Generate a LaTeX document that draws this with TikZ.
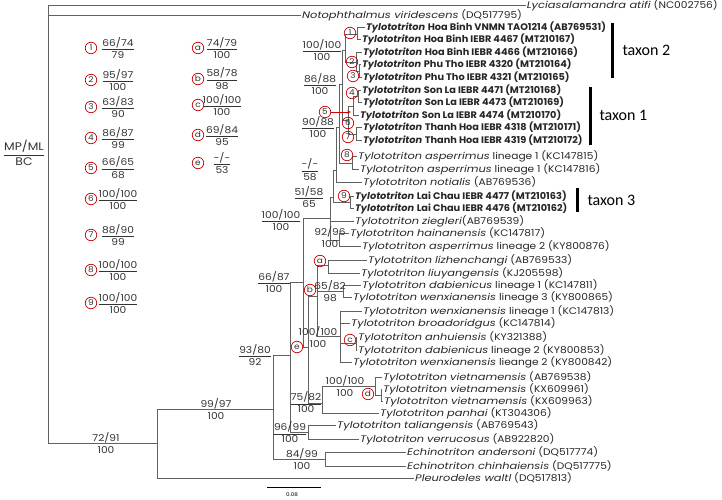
\documentclass[tikz,border=0pt]{standalone}
\usepackage{amsmath}
\usepackage{graphicx}
\usepackage{fontspec}
\setmainfont{Poppins}[
    UprightFeatures={FakeStretch=1.12},
    ItalicFeatures={FakeStretch=1.2},
    BoldFeatures={FakeStretch=1.13},
    BoldItalicFeatures={FakeStretch=1.13}]
\newfontfamily\taxfont{Carlito}
\usetikzlibrary{arrows.meta}

% support values: MP/ML over BC
\newcommand{\bsfrac}[2]{$\genfrac{}{}{0.6pt}{0}{\text{#1}}{\text{#2}}$}
\newcommand{\bsstack}[2]{$\genfrac{}{}{0pt}{0}{\text{#1}}{\text{#2}}$}
% new samples in bold, slightly condensed
\newcommand{\tyl}[1]{\scalebox{0.91}[1]{\textbf{\textit{Tylototriton}} \textbf{#1}}}
\newcommand{\tyi}{\textit{Tylototriton}}

\begin{document}
\begin{tikzpicture}[x=1pt, y=-1pt,
    branch/.style={draw=black!62, line width=0.9pt},
    taxon/.style={anchor=west, inner sep=1pt, font=\fontsize{9.5}{10}\selectfont, text=black!85},
    supp/.style={inner sep=0pt, font=\fontsize{9.5}{10}\selectfont, text=black!80},
    nodec/.style={circle, draw=red!80!black, line width=0.7pt, inner sep=0pt,
        minimum size=11.5pt, font=\fontsize{8}{8}\selectfont, text=black!80},
    taxbar/.style={line width=3pt, black},
    taxlab/.style={anchor=west, font=\taxfont\fontsize{16}{16}\selectfont}
]
\useasboundingbox (0,0) rectangle (722,500);

% Terminal taxa
\node[taxon, anchor=east] (lycia) at (719,5) {\textit{Lyciasalamandra atifi} (NC002756)};
\node[taxon] (noto)  at (301,15)  {\textit{Notophthalmus viridescens} (DQ517795)};
\node[taxon] (hb1)   at (365,27)  {\tyl{Hoa Binh VNMN TAO1214 (AB769531)}};
\node[taxon] (hb2)   at (361,39.5){\tyl{Hoa Binh IEBR 4467 (MT210167)}};
\node[taxon] (hb3)   at (362,52)  {\tyl{Hoa Binh IEBR 4466 (MT210166)}};
\node[taxon] (pt1)   at (361,64.5){\tyl{Phu Tho IEBR 4320 (MT210164)}};
\node[taxon] (pt2)   at (362,77)  {\tyl{Phu Tho IEBR 4321 (MT210165)}};
\node[taxon] (sl1)   at (361,90)  {\tyl{Son La IEBR 4471 (MT210168)}};
\node[taxon] (sl2)   at (362,102.5){\tyl{Son La IEBR 4473 (MT210169)}};
\node[taxon] (sl3)   at (359,115) {\tyl{Son La IEBR 4474 (MT210170)}};
\node[taxon] (th1)   at (362,127.5){\tyl{Thanh Hoa IEBR 4318 (MT210171)}};
\node[taxon] (th2)   at (362,140) {\tyl{Thanh Hoa IEBR 4319 (MT210172)}};
\node[taxon] (asp1a) at (357,156) {\tyi\ \textit{asperrimus} lineage 1 (KC147815)};
\node[taxon] (asp1b) at (359,169) {\tyi\ \textit{asperrimus} lineage 1 (KC147816)};
\node[taxon] (noti)  at (362,182) {\tyi\ \textit{notialis} (AB769536)};
\node[taxon] (lc1)   at (354,196) {\tyl{Lai Chau IEBR 4477 (MT210163)}};
\node[taxon] (lc2)   at (354,208) {\tyl{Lai Chau IEBR 4476 (MT210162)}};
\node[taxon] (zieg)  at (354,221) {\tyi\ \textit{ziegleri}(AB769539)};
\node[taxon] (hain)  at (349,233) {\tyi\ \textit{hainanensis} (KC147817)};
\node[taxon] (asp2)  at (361,246) {\tyi\ \textit{asperrimus} lineage 2 (KY800876)};
\node[taxon] (lizh)  at (367,260) {\tyi\ \textit{lizhenchangi} (AB769533)};
\node[taxon] (liuy)  at (360,273) {\tyi\ \textit{liuyangensis} (KJ205598)};
\node[taxon] (dab1)  at (361,285) {\tyi\ \textit{dabienicus} lineage 1 (KC147811)};
\node[taxon] (wen3)  at (352,297) {\tyi\ \textit{wenxianensis} lineage 3 (KY800865)};
\node[taxon] (wen1)  at (362,311) {\tyi\ \textit{wenxianensis} lineage 1 (KC147813)};
\node[taxon] (broa)  at (350,323) {\tyi\ \textit{broadoridgus} (KC147814)};
\node[taxon] (anhu)  at (357,337) {\tyi\ \textit{anhuiensis} (KY321388)};
\node[taxon] (dab2)  at (357,350) {\tyi\ \textit{dabienicus} lineage 2 (KY800853)};
\node[taxon] (wen2)  at (352,362) {\tyi\ \textit{wenxianensis} lieange 2 (KY800842)};
\node[taxon] (viet1) at (382,377) {\tyi\ \textit{vietnamensis} (AB769538)};
\node[taxon] (viet2) at (382,389) {\tyi\ \textit{vietnamensis} (KX609961)};
\node[taxon] (viet3) at (383,401) {\tyi\ \textit{vietnamensis} (KX609963)};
\node[taxon] (panh)  at (379,413) {\tyi\ \textit{panhai} (KT304306)};
\node[taxon] (tali)  at (336,425) {\tyi\ \textit{taliangensis} (AB769543)};
\node[taxon] (verr)  at (359,439) {\tyi\ \textit{verrucosus} (AB922820)};
\node[taxon] (ande)  at (406,452) {\textit{Echinotriton andersoni} (DQ517774)};
\node[taxon] (chin)  at (406,466) {\textit{Echinotriton chinhaiensis} (DQ517775)};
\node[taxon] (pleu)  at (414,478) {\textit{Pleurodeles waltl} (DQ517813)};

% Internal nodes (x of split, y of stem)
\coordinate (root) at (48,5);
\coordinate (nA) at (157,443);  \coordinate (nB) at (273,409);
\coordinate (nC) at (290,355);  \coordinate (nD) at (303,282);
\coordinate (nF) at (308,432);  \coordinate (nE) at (325,459);
\coordinate (nG) at (330,218);  \coordinate (nH) at (308,347);
\coordinate (nJ) at (322,403);  \coordinate (nK) at (375,386);
\coordinate (nd) at (381,395);  \coordinate (nb) at (317,296);
\coordinate (na) at (328,265);  \coordinate (n65) at (343,291);
\coordinate (n100) at (340,336); \coordinate (nc) at (356,343);
\coordinate (n92) at (339,240); \coordinate (n5) at (333,197);
\coordinate (n9) at (350,202);  \coordinate (n4) at (336,170);
\coordinate (n3) at (339,127);  \coordinate (n8) at (352,163);
\coordinate (n2) at (342,84);   \coordinate (tx2) at (345,50);
\coordinate (tx1) at (348,120); \coordinate (h1) at (357,34);
\coordinate (h2) at (356,62);   \coordinate (h3) at (359,71);
\coordinate (s5) at (353,106);  \coordinate (s4) at (358,96);
\coordinate (s7) at (356,134);

% Branches
\draw[branch] (root) |- (lycia.west) (root) |- (noto.west) (root) |- (nA);
\draw[branch] (nA) |- (nB) (nA) |- (pleu.west);
\draw[branch] (nB) |- (nC) (nB) |- (nE);
\draw[branch] (nE) |- (ande.west) (nE) |- (chin.west);
\draw[branch] (nC) |- (nD) (nC) |- (nF);
\draw[branch] (nF) |- (tali.west) (nF) |- (verr.west);
\draw[branch] (nD) |- (nG) (nD) |- (nH);
\draw[branch] (nH) |- (nb) (nH) |- (nJ);
\draw[branch] (nJ) |- (nK) (nJ) |- (panh.west);
\draw[branch] (nK) |- (viet1.west) (nK) |- (nd);
\draw[branch] (nd) |- (viet2.west) (nd) |- (viet3.west);
\draw[branch] (nb) |- (na) (nb) |- (n65) (nb) |- (n100);
\draw[branch] (na) |- (lizh.west) (na) |- (liuy.west);
\draw[branch] (n65) |- (dab1.west) (n65) |- (wen3.west);
\draw[branch] (n100) |- (wen1.west) (n100) |- (broa.west) (n100) |- (nc) (n100) |- (wen2.west);
\draw[branch] (nc) |- (anhu.west) (nc) |- (dab2.west);
\draw[branch] (nG) |- (n5) (nG) |- (zieg.west) (nG) |- (n92);
\draw[branch] (n92) |- (hain.west) (n92) |- (asp2.west);
\draw[branch] (n5) |- (n4) (n5) |- (n9);
\draw[branch] (n9) |- (lc1.west) (n9) |- (lc2.west);
\draw[branch] (n4) |- (n3) (n4) |- (noti.west);
\draw[branch] (n3) |- (n2) (n3) |- (n8);
\draw[branch] (n8) |- (asp1a.west) (n8) |- (asp1b.west);
\draw[branch] (n2) |- (tx2) (n2) |- (tx1);
\draw[branch] (tx2) |- (h1) (tx2) |- (h2);
\draw[branch] (h1) |- (hb1.west) (h1) |- (hb2.west);
\draw[branch] (h2) |- (hb3.west) (h2) |- (h3);
\draw[branch] (h3) |- (pt1.west) (h3) |- (pt2.west);
\draw[branch] (tx1) |- (s5) (tx1) |- (s7);
\draw[branch] (s5) |- (s4) (s5) |- (sl3.west);
\draw[branch] (s4) |- (sl1.west) (s4) |- (sl2.west);
\draw[branch] (s7) |- (th1.west) (s7) |- (th2.west);

% Support values on the tree
\node[supp] (v1)  at (322,50)  {\bsfrac{100/100}{100}};
\node[supp] (v2)  at (320,84)  {\bsfrac{86/88}{100}};
\node[supp] (v3)  at (318,127) {\bsfrac{90/88}{100}};
\node[supp] (v4)  at (310,170) {\bsfrac{-/-}{58}};
\node[supp] (v5)  at (309,197) {\bsfrac{51/58}{65}};
\node[supp] (v6)  at (281,220) {\bsfrac{100/100}{100}};
\node[supp] (v7)  at (330,237) {\bsstack{92/96}{100}};
\node[supp] (v8)  at (274,282) {\bsfrac{66/87}{100}};
\node[supp] (v9)  at (330,291) {\bsstack{65/82}{98}};
\node[supp] (v10) at (318,337) {\bsstack{100/100}{100}};
\node[supp] (v11) at (255,355) {\bsfrac{93/80}{92}};
\node[supp] (v12) at (345,386) {\bsstack{100/100}{100}};
\node[supp] (v13) at (306,402) {\bsfrac{75/82}{100}};
\node[supp] (v14) at (216,409) {\bsstack{99/97}{100}};
\node[supp] (v15) at (290,432) {\bsfrac{96/99}{100}};
\node[supp] (v16) at (302,459) {\bsstack{84/99}{100}};
\node[supp] (v17) at (106,443) {\bsstack{72/91}{100}};

% Circled node marks on the tree
\node[nodec] (m1) at (350,33)  {1};
\node[nodec] (m2) at (352,62)  {2};
\node[nodec] (m3) at (353,76)  {3};
\node[nodec] (m4) at (352,93)  {4};
\node[nodec] (m5) at (325,112) {5};
\node[nodec] (m6) at (348,123) {6};
\node[nodec] (m7) at (348,137) {7};
\node[nodec] (m8) at (347,155) {8};
\node[nodec] (m9) at (344,196) {9};
\node[nodec] (ma) at (320,261) {a};
\node[nodec] (mb) at (310,290) {b};
\node[nodec] (mc) at (350,340) {c};
\node[nodec] (md) at (368,394) {d};
\node[nodec] (me) at (297,347) {e};
\coordinate (m5tip) at (351,112);
\draw[red!80!black, line width=0.7pt, -{Stealth[length=4pt]}] (m5) -- (m5tip);

% Legend of circled nodes
\foreach \k/\y/\a/\b in {1/48/66\slash 74/79, 2/80/95\slash 97/100, 3/107/63\slash 83/90,
    4/138/86\slash 87/99, 5/168/66\slash 65/68, 6/199/100\slash 100/100,
    7/235/88\slash 90/99, 8/270/100\slash 100/100, 9/303/100\slash 100/100}{
  \node[nodec] (k\k) at (91,\y) {\k};
  \node[supp] (kv\k) at (118,\y) {\bsfrac{\a}{\b}};
}
\foreach \k/\y/\a/\b in {a/48/74\slash 79/100, b/79/58\slash 78/98, c/105/100\slash 100/100,
    d/135/69\slash 84/95, e/163/-\slash -/53}{
  \node[nodec] (k\k) at (198,\y) {\k};
  \node[supp] (kv\k) at (222,\y) {\bsfrac{\a}{\b}};
}

% Header of support values
\node[supp, font=\fontsize{11}{12}\selectfont] (hdr) at (24,153) {\bsfrac{MP/ML}{BC}};

% Taxon bars
\coordinate (b2t) at (612,23);  \coordinate (b2b) at (612,78);
\coordinate (b1t) at (590,87);  \coordinate (b1b) at (590,145);
\coordinate (b3t) at (577,188); \coordinate (b3b) at (577,212);
\draw[taxbar] (b2t) -- (b2b);
\draw[taxbar] (b1t) -- (b1b);
\draw[taxbar] (b3t) -- (b3b);
\node[taxlab] (lab2) at (619,50)  {taxon 2};
\node[taxlab] (lab1) at (596,115) {taxon 1};
\node[taxlab] (lab3) at (584,200) {taxon 3};

% Scale bar
\coordinate (sbl) at (267,487); \coordinate (sbr) at (321,487);
\draw[black, line width=0.9pt] (sbl) -- (sbr);
\node[font=\fontsize{5}{5}\selectfont] (sbt) at (292,495) {0.08};
\end{tikzpicture}
\end{document}
